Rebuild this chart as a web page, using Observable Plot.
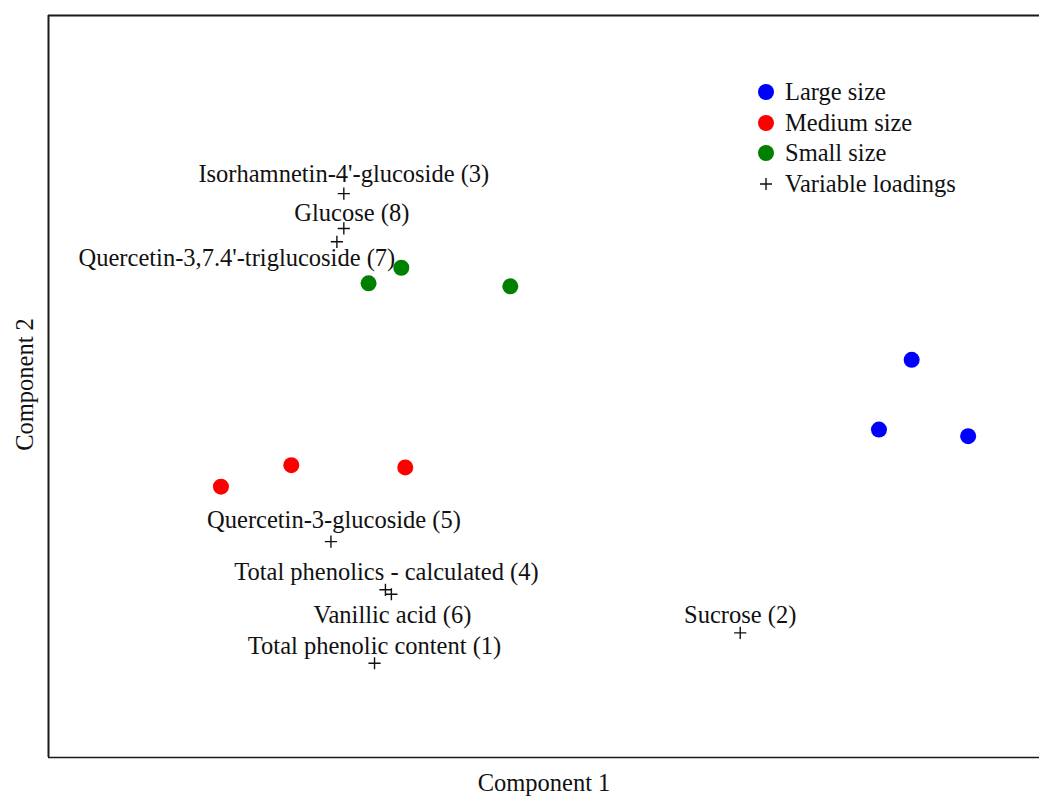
<!DOCTYPE html>
<html>
<head>
<meta charset="utf-8">
<script src="https://cdn.jsdelivr.net/npm/d3@7"></script>
<script src="https://cdn.jsdelivr.net/npm/@observablehq/plot@0.6"></script>
<style>
  html, body { margin: 0; padding: 0; background: #fff; }
  #wrap { position: relative; width: 1039px; height: 796px; overflow: hidden; }
  #legend { position: absolute; left: 757px; top: 77px; font-family: "Liberation Serif", serif; font-size: 24.5px; color: #111; }
  #legend .row { display: flex; align-items: center; height: 30.5px; white-space: nowrap; }
  #legend svg { width: 18px; height: 18px; margin-right: 10px; flex: none; }
</style>
</head>
<body>
<div id="wrap"><div id="legend"></div></div>
<script>
// PCA scores (samples)
const scoreGroup = ["Large size", "Large size", "Large size", "Medium size", "Medium size", "Medium size", "Small size", "Small size", "Small size"];
const scoreX = [3.71, 3.38, 4.28, -3.26, -2.55, -1.40, -1.77, -1.44, -0.34];
const scoreY = [0.36, -0.58, -0.67, -1.35, -1.06, -1.09, 1.39, 1.60, 1.35];

// Variable loadings
const loadingNames = ["Total phenolic content (1)", "Sucrose (2)", "Isorhamnetin-4'-glucoside (3)", "Total phenolics - calculated (4)", "Quercetin-3-glucoside (5)", "Vanillic acid (6)", "Quercetin-3,7.4'-triglucoside (7)", "Glucose (8)"];
const loadingX = [-1.71, 1.98, -2.02, -1.60, -2.15, -1.54, -2.09, -2.02];
const loadingY = [-3.73, -3.32, 2.60, -2.74, -2.09, -2.80, 1.95, 2.13];

// Legend entries
const legendLabels = ["Large size", "Medium size", "Small size", "Variable loadings"];
const groupColors = ["#0000ff", "#ff0000", "#008000"];

// label placement offsets (style, pixels)
const labelDx = [0, 0, 0, 1, 3, 1, -100, 8];
const labelDy = [-17, -18, -19, -18, -21, 21, 16, -15];

const scores = scoreGroup.map((g, i) => ({group: g, x: scoreX[i], y: scoreY[i]}));
const loadings = loadingNames.map((n, i) => ({name: n, x: loadingX[i], y: loadingY[i]}));

const font = "Liberation Serif";
const fs = 24.5;

const labelMarks = loadings.map((d, i) => Plot.text([d], {
  x: "x", y: "y", text: "name", dx: labelDx[i], dy: labelDy[i],
  fontSize: fs, fill: "#111"
}));

const chart = Plot.plot({
  width: 1039,
  height: 796,
  marginLeft: 48,
  marginRight: 0,
  marginTop: 15,
  marginBottom: 39,
  style: {fontFamily: font, fontSize: fs + "px", background: "#fff", overflow: "visible"},
  x: {domain: [-5, 5], axis: null},
  y: {domain: [-5, 5], axis: null},
  color: {domain: legendLabels.slice(0, 3), range: groupColors},
  marks: [
    Plot.ruleY([5], {stroke: "#1a1a1a", strokeWidth: 2}),
    Plot.ruleY([-5], {stroke: "#1a1a1a", strokeWidth: 1.6}),
    Plot.ruleX([-5], {stroke: "#1a1a1a", strokeWidth: 2}),
    Plot.dot(scores, {x: "x", y: "y", fill: "group", r: 8}),
    Plot.dot(loadings, {x: "x", y: "y", symbol: "plus", stroke: "#111", strokeWidth: 1.4, r: 4}),
    ...labelMarks,
    Plot.text(["Component 1"], {frameAnchor: "bottom", dy: 33, fontSize: fs, fill: "#111"}),
    Plot.text(["Component 2"], {frameAnchor: "left", textAnchor: "middle", rotate: -90, dx: -23, dy: -2, fontSize: fs, fill: "#111"})
  ]
});
document.getElementById("wrap").prepend(chart);

// legend
const legend = document.getElementById("legend");
legendLabels.forEach((lab, i) => {
  const row = document.createElement("div");
  row.className = "row";
  const sym = i < 3
    ? `<svg viewBox="-9 -9 18 18"><circle r="8" fill="${groupColors[i]}"/></svg>`
    : `<svg viewBox="-9 -9 18 18"><path d="M-6,0H6M0,-6V6" stroke="#111" stroke-width="1.4"/></svg>`;
  row.innerHTML = sym + `<span>${lab}</span>`;
  legend.appendChild(row);
});
</script>
</body>
</html>
